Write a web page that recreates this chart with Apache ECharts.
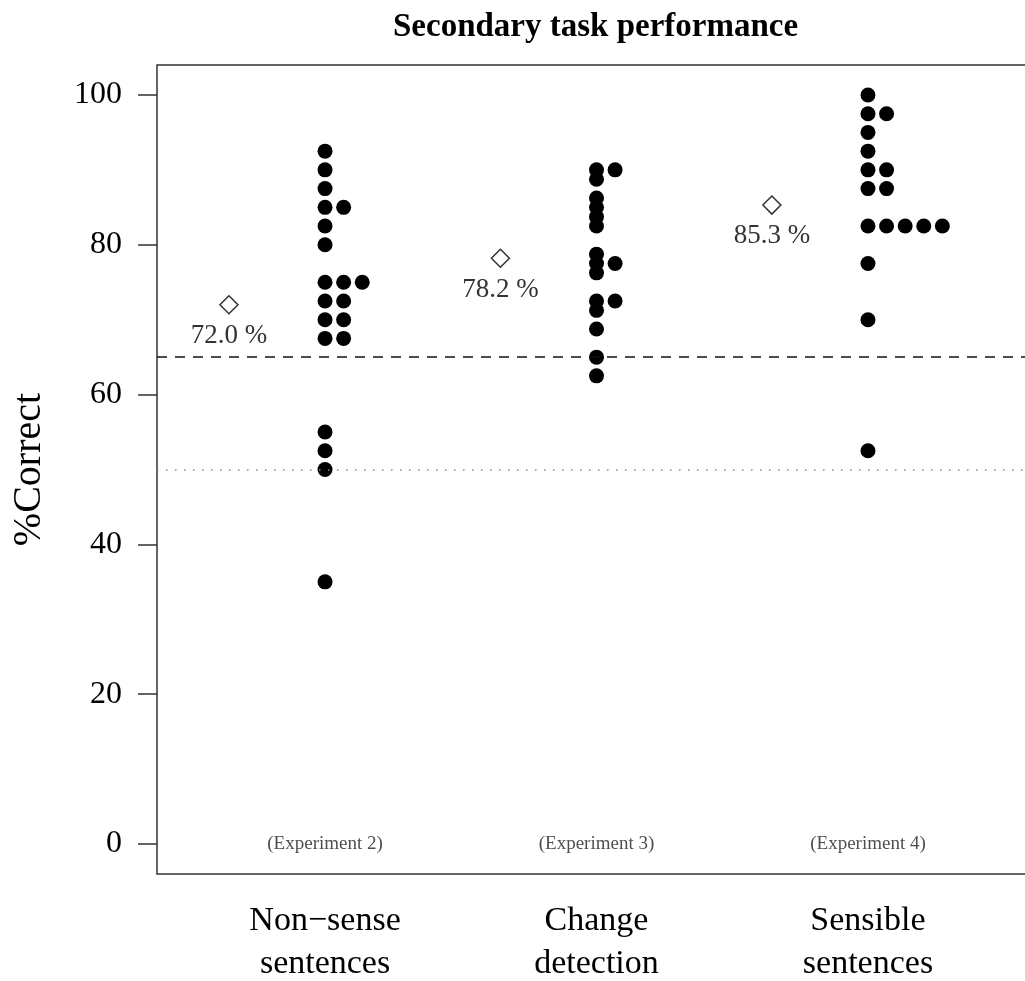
<!DOCTYPE html>
<html>
<head>
<meta charset="utf-8">
<script src="https://cdn.jsdelivr.net/npm/echarts@6/dist/echarts.min.js"></script>
<style>
  * { margin: 0; padding: 0; }
  body { background: #fff; }
  #chart { width: 1025px; height: 981px; }
</style>
</head>
<body>
<div id="chart"></div>
<script>
// categories along the x axis (1, 2, 3)
const categories = ['Non\u2212sense\nsentences', 'Change\ndetection', 'Sensible\nsentences']
const experiments = ['(Experiment 2)', '(Experiment 3)', '(Experiment 4)']

// individual %correct per participant
const nonsense = [92.5, 90, 87.5, 85, 85, 82.5, 80, 75, 75, 75, 72.5, 72.5, 70, 70, 67.5, 67.5, 55, 52.5, 50, 35]
const changeDetection = [90, 90, 88.75, 86.25, 85, 83.75, 82.5, 78.75, 77.5, 77.5, 76.25, 72.5, 72.5, 71.25, 68.75, 65, 62.5]
const sensible = [100, 97.5, 97.5, 95, 92.5, 90, 90, 87.5, 87.5, 82.5, 82.5, 82.5, 82.5, 82.5, 77.5, 70, 52.5]

// group means
const means = [72.0, 78.2, 85.3]

// reference lines
const criterion = 65
const chance = 50

const yTicks = [0, 20, 40, 60, 80, 100]

const dotStep = 0.0685   // horizontal offset for tied values
const meanOffset = 0.354 // mean marker sits left of the dots

const serif = 'Liberation Serif'

// stack tied values side by side
function stackDots(values, group) {
  const seen = {}
  return values.map(v => {
    const k = seen[v] || 0
    seen[v] = k + 1
    return [group + k * dotStep, v]
  })
}

const groups = [nonsense, changeDetection, sensible]

const chart = echarts.init(document.getElementById('chart'))
chart.setOption({
  animation: false,
  title: {
    text: 'Secondary task performance',
    left: 388,
    top: 6,
    textStyle: { fontFamily: serif, fontWeight: 'bold', fontSize: 33, color: '#000' }
  },
  grid: {
    left: 157,
    top: 65,
    width: 901,
    height: 809,
    outerBoundsMode: 'none',
    containLabel: false,
    show: true,
    borderColor: '#333',
    borderWidth: 1.5
  },
  xAxis: {
    type: 'value',
    min: 0.381,
    max: 3.7,
    splitLine: { show: false },
    axisLine: { show: false },
    axisTick: { show: false },
    axisLabel: {
      customValues: [1, 2, 3],
      formatter: v => categories[Math.round(v) - 1],
      margin: 26,
      fontFamily: serif,
      fontSize: 34,
      lineHeight: 43,
      color: '#000'
    }
  },
  yAxis: {
    type: 'value',
    min: -4,
    max: 104,
    name: '%Correct',
    nameLocation: 'middle',
    nameRotate: 90,
    nameGap: 108,
    nameTextStyle: { fontFamily: serif, fontSize: 40, color: '#000' },
    splitLine: { show: false },
    axisLine: { show: false },
    axisTick: {
      show: true,
      customValues: yTicks,
      length: 19,
      lineStyle: { color: '#333', width: 1.5 }
    },
    axisLabel: {
      customValues: yTicks,
      margin: 35,
      fontFamily: serif,
      fontSize: 32,
      color: '#000'
    }
  },
  series: [
    ...groups.map((vals, i) => ({
      type: 'scatter',
      symbol: 'circle',
      symbolSize: 15,
      itemStyle: { color: '#000', opacity: 1 },
      data: stackDots(vals, i + 1),
      z: 3
    })),
    {
      type: 'scatter',
      symbol: 'diamond',
      symbolSize: 18,
      itemStyle: { color: '#fff', borderColor: '#333', borderWidth: 1.5, opacity: 1 },
      label: {
        show: true,
        position: 'bottom',
        distance: 8,
        formatter: p => p.value[1].toFixed(1) + ' %',
        fontFamily: serif,
        fontSize: 27,
        color: '#333'
      },
      data: means.map((m, i) => [i + 1 - meanOffset, m]),
      markLine: {
        silent: true,
        symbol: 'none',
        label: { show: false },
        data: [
          { yAxis: criterion, lineStyle: { color: '#111', width: 1.5, type: [10, 8] } },
          { yAxis: chance, lineStyle: { color: '#888', width: 1.5, type: [1.5, 7.5] } }
        ]
      }
    },
    {
      type: 'scatter',
      symbol: 'circle',
      symbolSize: 1,
      itemStyle: { color: 'rgba(0,0,0,0)' },
      label: {
        show: true,
        position: 'inside',
        formatter: p => experiments[p.dataIndex],
        fontFamily: serif,
        fontSize: 19,
        color: '#222'
      },
      data: experiments.map((e, i) => [i + 1, 0])
    }
  ]
})
</script>
</body>
</html>
